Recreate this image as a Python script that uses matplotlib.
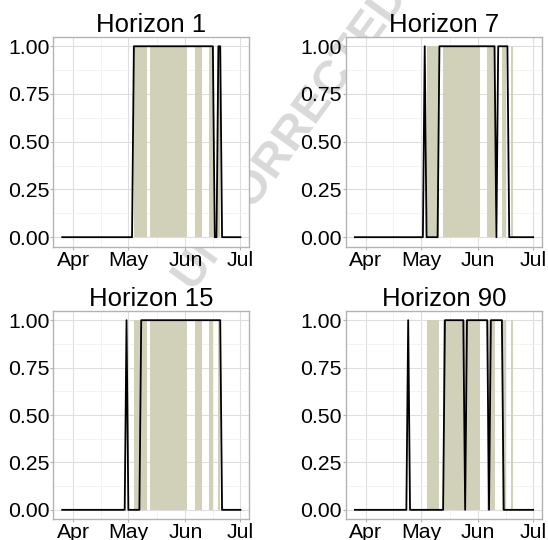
import pandas as pd
import numpy as np
import matplotlib
matplotlib.use('Agg')
import matplotlib.pyplot as plt
import matplotlib.dates as mdates

plt.rcParams['font.family'] = ['Liberation Sans', 'DejaVu Sans']

# 数据：日期范围
start_date = '2021-03-26'
end_date = '2021-07-01'

titles = ['Horizon 1', 'Horizon 7', 'Horizon 15', 'Horizon 90']

# 预测值为1的区间（含首尾日）
on_start = [
    ['2021-05-04', '2021-06-19'],
    ['2021-05-03', '2021-05-11', '2021-06-12'],
    ['2021-04-30', '2021-05-08'],
    ['2021-04-24', '2021-05-14', '2021-05-26', '2021-06-08'],
]
on_end = [
    ['2021-06-16', '2021-06-20'],
    ['2021-05-03', '2021-06-10', '2021-06-17'],
    ['2021-04-30', '2021-06-20'],
    ['2021-04-24', '2021-05-24', '2021-06-06', '2021-06-14'],
]

# 阴影区间
shade_start = ['2021-05-04', '2021-05-13', '2021-06-06', '2021-06-14', '2021-06-19']
shade_end = ['2021-05-11', '2021-06-02', '2021-06-10', '2021-06-16', '2021-06-20']

y_ticks = [0, 0.25, 0.5, 0.75, 1.0]
y_labels = ['0.00', '0.25', '0.50', '0.75', '1.00']
month_ticks = ['2021-04-01', '2021-05-01', '2021-06-01', '2021-07-01']
month_labels = ['Apr', 'May', 'Jun', 'Jul']

shade_color = '#d1d0b9'
grid_color = '#dedede'
border_color = '#b3b3b3'

fig = plt.figure(figsize=(5.48, 5.40), dpi=100)

# 水印（在面板下面）
fig.text(0.53, 0.75, 'UNCORRECTED', rotation=54, ha='center', va='center',
         fontsize=34, fontweight='bold', color='#d9d9d9', zorder=-1)

positions = [
    [0.0973, 0.5431, 0.3577, 0.3889],
    [0.6314, 0.5431, 0.3577, 0.3889],
    [0.0973, 0.0383, 0.3577, 0.3863],
    [0.6314, 0.0383, 0.3577, 0.3863],
]

days = pd.date_range(start_date, end_date, freq='D')
x_days = mdates.date2num(days)

for i in range(4):
    ax = fig.add_axes(positions[i])
    ax.set_facecolor('white')
    vals = np.zeros(len(days))
    for s, e in zip(on_start[i], on_end[i]):
        vals[(days >= s) & (days <= e)] = 1

    # 阴影
    xs = mdates.date2num(pd.to_datetime(shade_start))
    xe = mdates.date2num(pd.to_datetime(shade_end))
    ax.bar(xs, 1, width=xe - xs, align='edge', color=shade_color, linewidth=0, zorder=1)

    ax.plot(x_days, vals, color='black', linewidth=1.3, zorder=3)

    # 坐标轴范围 (ggplot 5% 扩展)
    span = x_days[-1] - x_days[0]
    ax.set_xlim(x_days[0] - 0.05 * span, x_days[-1] + 0.05 * span)
    ax.set_ylim(-0.05, 1.05)

    mt = mdates.date2num(pd.to_datetime(month_ticks))
    ax.set_xticks(mt)
    ax.set_xticklabels(month_labels)
    ax.set_xticks((mt[:-1] + mt[1:]) / 2, minor=True)
    ax.set_yticks(y_ticks)
    ax.set_yticklabels(y_labels)
    ax.set_yticks([0.125, 0.375, 0.625, 0.875], minor=True)

    ax.grid(which='major', color=grid_color, linewidth=0.8)
    ax.grid(which='minor', color='#efefef', linewidth=0.5)
    ax.set_axisbelow(True)

    for sp in ax.spines.values():
        sp.set_color(border_color)
        sp.set_linewidth(1.0)
    ax.tick_params(which='major', length=2.2, width=0.8, color=border_color,
                   labelsize=15.3, labelcolor='black', pad=0.6)
    ax.tick_params(which='minor', length=0)
    ax.set_title(titles[i], fontsize=18.5, pad=2.5)

fig.savefig('out.png', dpi=100)
